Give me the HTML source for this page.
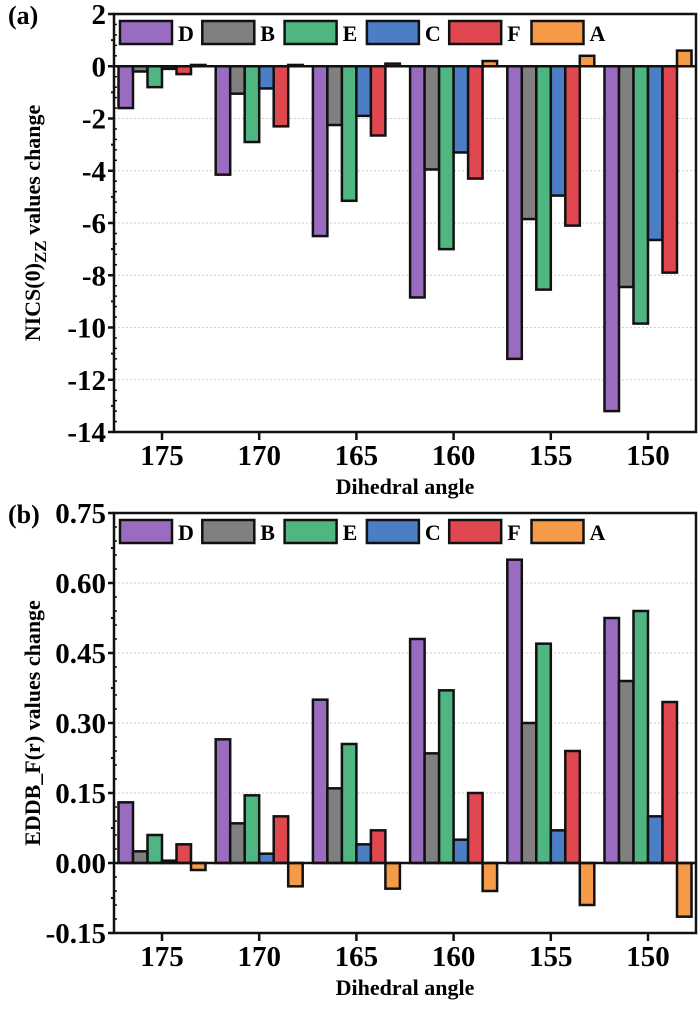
<!DOCTYPE html>
<html><head><meta charset="utf-8"><style>
body{margin:0;background:#fff;width:700px;height:1016px;overflow:hidden}
svg{font-family:"Liberation Serif",serif;font-weight:bold}
</style></head><body>
<svg id="c" width="700" height="1016" xmlns="http://www.w3.org/2000/svg"></svg>
<script>
const categories = [175,170,165,160,155,150];
const seriesNames = ["D","B","E","C","F","A"];
const seriesColors = ["#9a6cc0","#808080","#4fb681","#4c7ec6","#e0474f","#f59b48"];
const aD = [-1.6,-4.15,-6.5,-8.85,-11.2,-13.2];
const aB = [-0.2,-1.05,-2.25,-3.95,-5.85,-8.45];
const aE = [-0.8,-2.9,-5.15,-7.0,-8.55,-9.85];
const aC = [-0.1,-0.85,-1.9,-3.3,-4.95,-6.65];
const aF = [-0.3,-2.3,-2.65,-4.3,-6.1,-7.9];
const aA = [0.05,0.05,0.1,0.2,0.4,0.6];
const bD = [0.13,0.265,0.35,0.48,0.65,0.525];
const bB = [0.025,0.085,0.16,0.235,0.30,0.39];
const bE = [0.06,0.145,0.255,0.37,0.47,0.54];
const bC = [0.005,0.02,0.04,0.05,0.07,0.10];
const bF = [0.04,0.10,0.07,0.15,0.24,0.345];
const bA = [-0.015,-0.05,-0.055,-0.06,-0.09,-0.115];
const aTicks = [2,0,-2,-4,-6,-8,-10,-12,-14];
const aTickLabels = ["2","0","-2","-4","-6","-8","-10","-12","-14"];
const bTicks = [0.75,0.60,0.45,0.30,0.15,0.00,-0.15];
const bTickLabels = ["0.75","0.60","0.45","0.30","0.15","0.00","-0.15"];

const NS="http://www.w3.org/2000/svg";
const svg=document.getElementById('c');
function mk(tag,attrs,parent){const e=document.createElementNS(NS,tag);for(const k in attrs)e.setAttribute(k,attrs[k]);(parent||svg).appendChild(e);return e;}

function panel(cfg){
  const g=mk('g',{});
  
  
  const L=114,R=696,T=cfg.top,B=cfg.bottom;
  const y=v=>T+(cfg.max-v)/(cfg.max-cfg.min)*(B-T);
  const x=c=>162+(175-c)/5*97.2;
  // grid
  cfg.ticks.forEach(t=>{if(t!==cfg.max&&t!==cfg.min){const l=mk('line',{x1:L,x2:R,y1:y(t),y2:y(t),stroke:'#ccc','stroke-dasharray':'2,2','stroke-width':1},g);}});
  // bars
  const bw=14.5;
  cfg.series.forEach((s,si)=>{
    s.forEach((v,ci)=>{
      const cx=x(categories[ci])-3*bw+si*bw;
      const y0=y(0),y1=y(v);
      const r=mk('rect',{x:cx,y:Math.min(y0,y1),width:bw,height:Math.max(1,Math.abs(y1-y0)),fill:seriesColors[si],stroke:'#111','stroke-width':2.5},g);
      
      
    });
  });
  const z=mk('line',{x1:L,x2:R,y1:y(0),y2:y(0),stroke:'#111','stroke-width':2.5},g);
  
  const fr=mk('rect',{x:L,y:T,width:R-L,height:B-T,fill:'none',stroke:'#111','stroke-width':2.5},g);
  
  // y ticks
  cfg.ticks.forEach((t,i)=>{
    mk('line',{x1:L-6,x2:L,y1:y(t),y2:y(t),stroke:'#111','stroke-width':2.5},g);
    if(i<cfg.ticks.length-1){const m=(t+cfg.ticks[i+1])/2;mk('line',{x1:L-3,x2:L,y1:y(m),y2:y(m),stroke:'#111','stroke-width':2},g);
      for(let k=1;k<5;k++){const mm=t+(cfg.ticks[i+1]-t)*k/5;mk('line',{x1:L,x2:L+3,y1:y(mm),y2:y(mm),stroke:'#111','stroke-width':1.5},g);}}
    const tx=mk('text',{x:L-8,y:y(t)+10,'text-anchor':'end','font-size':29},g);
    tx.textContent=cfg.tickLabels[i];
    
  });
  categories.forEach(c=>{
    mk('line',{x1:x(c),x2:x(c),y1:B,y2:B+8,stroke:'#111','stroke-width':2.5},g);
    const tx=mk('text',{x:x(c),y:B+33,'text-anchor':'middle','font-size':29},g);
    tx.textContent=c;
    
  });
  const xt=mk('text',{x:405,y:B+62,'text-anchor':'middle','font-size':22},g);
  xt.textContent='Dihedral angle';
  
  const yt=mk('text',{x:0,y:0,'text-anchor':'middle','font-size':22,transform:'translate(40,'+((T+B)/2)+') rotate(-90)'},g);
  yt.innerHTML=cfg.ytitle;
  
  const pl=mk('text',{x:8,y:cfg.labelY,'font-size':26},g);
  pl.textContent=cfg.label;
  
  // legend
  seriesNames.forEach((n,i)=>{
    const lx=120+i*82.3, ly=T+7;
    const r=mk('rect',{x:lx,y:ly,width:52,height:23,fill:seriesColors[i],stroke:'#111','stroke-width':2.5},g);
    
    const t=mk('text',{x:lx+58,y:ly+20,'font-size':22},g);
    t.textContent=n;
    
  });
}
panel({name:'panel-a',top:14,bottom:432,max:2,min:-14,ticks:aTicks,tickLabels:aTickLabels,series:[aD,aB,aE,aC,aF,aA],
  ytitle:'NICS(0)<tspan dy="6" font-size="17">ZZ</tspan><tspan dy="-6"> values change</tspan>',label:'(a)',labelY:24});
panel({name:'panel-b',top:513,bottom:933,max:0.75,min:-0.15,ticks:bTicks,tickLabels:bTickLabels,series:[bD,bB,bE,bC,bF,bA],
  ytitle:'EDDB_F(r) values change',label:'(b)',labelY:523});
</script>
</body></html>
